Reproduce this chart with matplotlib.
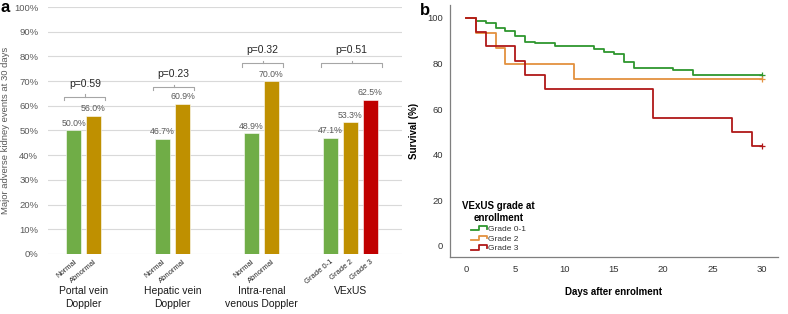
import matplotlib
matplotlib.use('Agg')
import matplotlib.pyplot as plt
from matplotlib.lines import Line2D
from matplotlib.legend_handler import HandlerBase
from matplotlib.ticker import FuncFormatter

plt.rcParams['font.family'] = ['Liberation Sans', 'DejaVu Sans']

# Panel a - bar chart data
groups = ['Portal vein\nDoppler', 'Hepatic vein\nDoppler', 'Intra-renal\nvenous Doppler', 'VExUS']
levels = [['Normal', 'Abnormal'], ['Normal', 'Abnormal'], ['Normal', 'Abnormal'],
          ['Grade 0-1', 'Grade 2', 'Grade 3']]
values = [[50.0, 56.0], [46.7, 60.9], [48.9, 70.0], [47.1, 53.3, 62.5]]
p_values = ['p=0.59', 'p=0.23', 'p=0.32', 'p=0.51']
bracket_y = [63.7, 67.5, 77.2, 77.2]
bar_colors = ['#70ad47', '#bf9000', '#c00000']

# Panel b - Kaplan-Meier data
km_labels = ['Grade 0-1', 'Grade 2', 'Grade 3']
km_times = [
    [0, 1, 2, 3, 4, 5, 6, 7, 9, 13, 14, 15, 16, 17, 21, 23, 30],
    [0, 1, 3, 4, 11, 30],
    [0, 1, 2, 5, 6, 8, 19, 27, 29, 30],
]
km_surv = [
    [100, 98.8, 97.7, 95.5, 94.3, 92.2, 89.6, 88.9, 87.7, 86.4, 85.2, 84.2, 80.8, 78.2, 77.1, 74.8, 74.8],
    [100, 93.3, 86.7, 80.0, 73.3, 73.3],
    [100, 93.75, 87.5, 81.25, 75.0, 68.75, 56.25, 50.0, 43.75, 43.75],
]
km_colors = ['#2e962e', '#e3913f', '#b01818']

fig = plt.figure(figsize=(7.88, 3.14), dpi=100)

# ---------------- panel a ----------------
ax = fig.add_axes([0.0609, 0.1911, 0.449, 0.7866])
step = 0.2247
width = 0.169
xt, xl = [], []
for g, (labs, vals) in enumerate(zip(levels, values)):
    n = len(vals)
    xs = [g + (i - (n - 1) / 2) * step for i in range(n)]
    for i, (x, v) in enumerate(zip(xs, vals)):
        ax.bar(x, v, width=width, color=bar_colors[i], edgecolor='white', linewidth=0.4, zorder=3)
        ax.text(x, v + 1.0, f'{v:.1f}%', ha='center', va='bottom', fontsize=6.3, color='#595959', zorder=4)
    xt += xs
    xl += labs
    # bracket with p value
    x0 = xs[0] - width / 2 - 0.02
    x1 = xs[-1] + width / 2 + 0.05
    xm = (x0 + x1) / 2
    yb = bracket_y[g]
    ax.plot([x0, x0, x1, x1], [yb - 1.3, yb, yb, yb - 1.3], color='#a6a6a6', lw=0.8, zorder=4)
    ax.plot([xm, xm], [yb, yb + 1.1], color='#a6a6a6', lw=0.8, zorder=4)
    ax.text(xm, yb + 3.2, p_values[g], ha='center', va='bottom', fontsize=7.5, color='#262626')
    ax.text(g, -0.13, groups[g], transform=ax.get_xaxis_transform(), ha='center', va='top',
            fontsize=7.5, color='#1a1a1a', linespacing=1.35)

ax.set_xticks(xt)
ax.set_xticklabels(xl, rotation=40, ha='right', rotation_mode='anchor', fontsize=5.5, color='#262626')
ax.set_xlim(-0.399, 3.579)
ax.set_ylim(0, 100)
ax.set_yticks(range(0, 101, 10))
ax.yaxis.set_major_formatter(FuncFormatter(lambda v, p: f'{v:.0f}%'))
ax.tick_params(axis='y', labelsize=6.8, labelcolor='#595959', length=0, pad=7)
ax.tick_params(axis='x', length=0, pad=3)
ax.grid(axis='y', color='#d9d9d9', lw=0.8, zorder=0)
for s in ax.spines.values():
    s.set_visible(False)
ax.set_ylabel('Major adverse kidney events at 30 days', fontsize=6.8, color='#595959', labelpad=3)
fig.text(0.001, 0.975, 'a', fontsize=12, fontweight='bold', va='center', ha='left')

# ---------------- panel b ----------------
bx = fig.add_axes([0.571, 0.1815, 0.4162, 0.8025])
for t, s, c in zip(km_times, km_surv, km_colors):
    bx.step(t, s, where='post', color=c, lw=1.3)
    bx.plot(t[-1], s[-1], marker='+', color=c, ms=5, mew=0.9)


class StepHandler(HandlerBase):
    def create_artists(self, legend, orig_handle, xdescent, ydescent, width, height, fontsize, trans):
        xs = [0, 0.5 * width, 0.5 * width, width, width]
        ys = [0.15 * height, 0.15 * height, 0.85 * height, 0.85 * height, 0.35 * height]
        line = Line2D([x - xdescent for x in xs], [y - ydescent for y in ys],
                      color=orig_handle.get_color(), lw=1.3)
        line.set_transform(trans)
        return [line]


handles = [Line2D([], [], color=c) for c in km_colors]
leg = bx.legend(handles, km_labels, handler_map={Line2D: StepHandler()},
                title='VExUS grade at\nenrollment', loc='upper left', bbox_to_anchor=(0.02, 0.245),
                frameon=False, fontsize=6, title_fontproperties={'weight': 'bold', 'size': 7},
                handlelength=1.9, handletextpad=0.15, labelspacing=0.25, borderpad=0.2)
leg.get_title().set_multialignment('center')
for txt in leg.get_texts():
    txt.set_color('#333333')

bx.set_xlim(-1.62, 31.64)
bx.set_ylim(-5, 105.7)
bx.set_xticks(range(0, 31, 5))
bx.set_yticks(range(0, 101, 20))
bx.tick_params(length=0, labelsize=6.8, labelcolor='#333333')
bx.tick_params(axis='x', pad=6)
bx.tick_params(axis='y', pad=5)
for side in ['top', 'right']:
    bx.spines[side].set_visible(False)
for side in ['left', 'bottom']:
    bx.spines[side].set_color('#7f7f7f')
    bx.spines[side].set_linewidth(0.9)
bx.set_xlabel('Days after enrolment', fontsize=7, fontweight='bold', labelpad=9)
bx.set_ylabel('Survival (%)', fontsize=7, fontweight='bold', labelpad=6)
fig.text(0.533, 0.968, 'b', fontsize=12, fontweight='bold', va='center', ha='left')

fig.savefig('out.png', dpi=100)
